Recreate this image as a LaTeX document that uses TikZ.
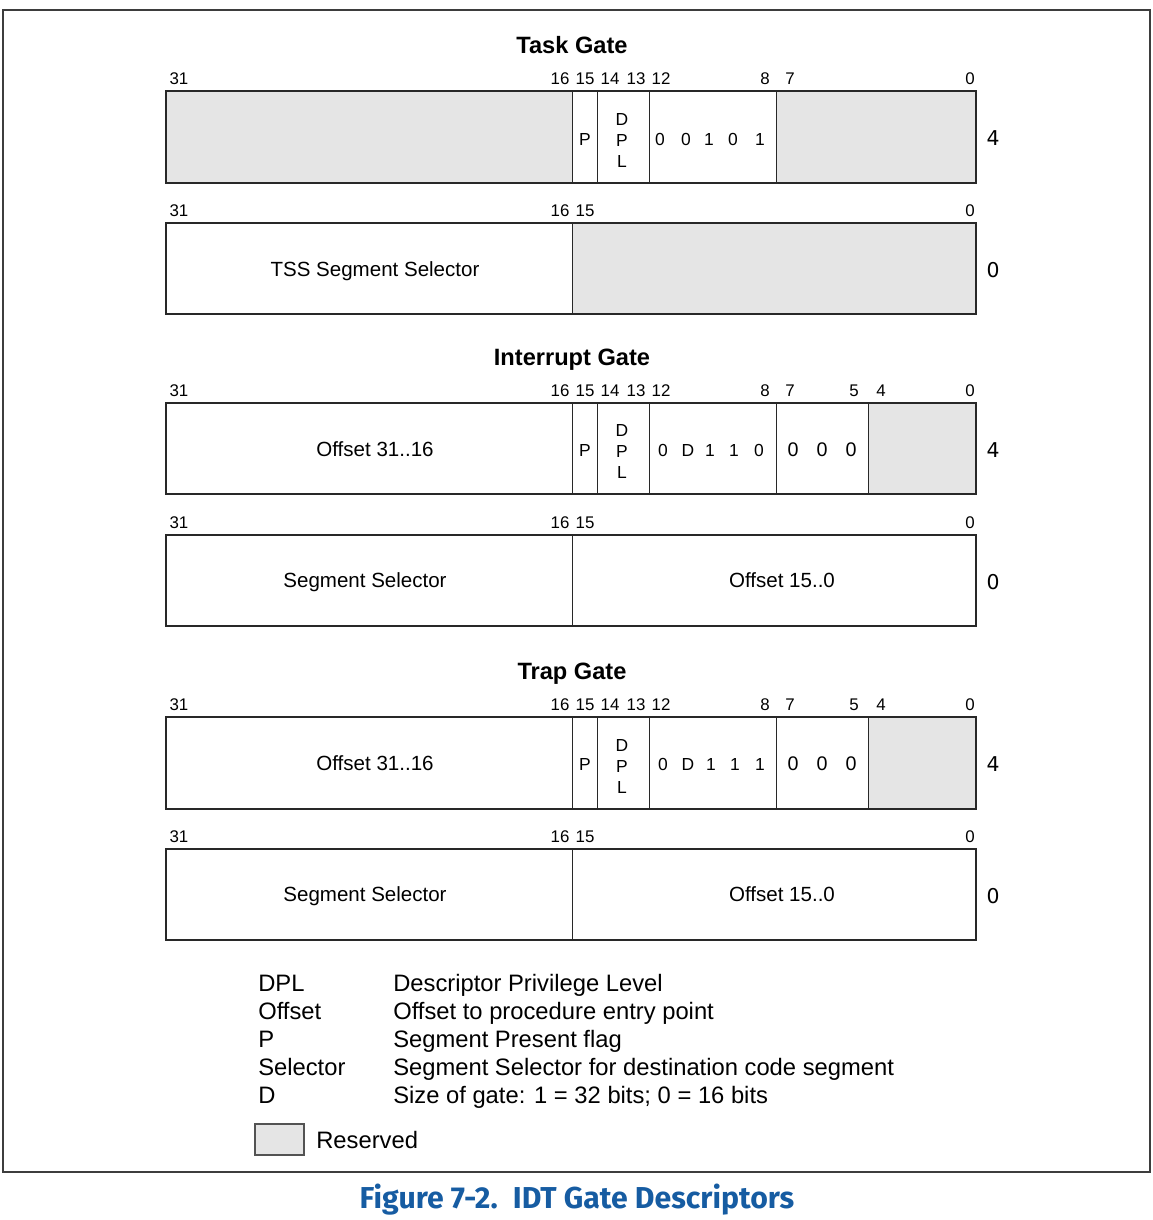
\documentclass[tikz,border=0pt]{standalone}
\usepackage{fontspec}
\setmainfont{Liberation Sans}
\newfontfamily\capfont{Fira Sans}
\newfontfamily\offfont{DejaVu Sans}
\definecolor{ResGray}{RGB}{229,229,229}
\definecolor{LineCol}{RGB}{40,40,40}
\definecolor{CapBlue}{RGB}{22,92,162}

\begin{document}
\begin{tikzpicture}[x=0.025cm,y=-0.025cm,
    txt/.style={inner sep=0pt,text height=0.72em,text depth=0pt,yshift=-1.5pt},
    bitnum/.style={txt,font=\fontsize{12}{14}\selectfont},
    cell/.style={txt,font=\fontsize{12.4}{14}\selectfont},
    bigcell/.style={txt,font=\fontsize{14}{16}\selectfont},
    field/.style={txt,font=\fontsize{14.6}{17}\selectfont},
    offs/.style={txt,font=\offfont\fontsize{14.5}{17}\selectfont},
    title/.style={txt,font=\bfseries\fontsize{16.8}{19}\selectfont},
    legend/.style={txt,anchor=west,font=\fontsize{16.9}{19}\selectfont},
    frame/.style={draw=LineCol,line width=1pt},
    divider/.style={draw=LineCol,line width=0.6pt}]
    \useasboundingbox (0,0) rectangle (1152,1220);
    \draw[draw=LineCol!90,line width=1pt] (3,10) rectangle (1150,1172);

    % Task Gate
    \node[title] (taskT) at (572,46) {Task Gate};
    \foreach \lbl/\x in {31/179,16/560,15/585,14/610,13/636,12/661,8/765,7/790,0/970}
        \node[bitnum] (tbA\lbl) at (\x,77) {\lbl};
    \fill[ResGray] (166,91) rectangle (572,183);
    \fill[ResGray] (776,91) rectangle (976,183);
    \draw[divider] (572,91) -- (572,183) (597,91) -- (597,183)
        (649,91) -- (649,183) (776,91) -- (776,183);
    \draw[frame] (166,91) rectangle (976,183);
    \node[cell] (tP) at (585,138) {P};
    \node[cell] (tD) at (622,118) {D};
    \node[cell] (tPP) at (622,139) {P};
    \node[cell] (tL) at (622,160) {L};
    \foreach \v/\x [count=\i] in {0/660,0/686,1/709,0/733,1/760}
        \node[cell] (tType\i) at (\x,138) {\v};
    \node[offs] (tOff4) at (993,138) {4};

    \foreach \lbl/\x in {31/179,16/560,15/585,0/970}
        \node[bitnum] (tbB\lbl) at (\x,209) {\lbl};
    \fill[ResGray] (572,223) rectangle (976,314);
    \draw[divider] (572,223) -- (572,314);
    \draw[frame] (166,223) rectangle (976,314);
    \node[field] (tSel) at (375,269) {TSS Segment Selector};
    \node[offs] (tOff0) at (993,270) {0};

    % Interrupt Gate
    \node[title] (intT) at (572,358) {Interrupt Gate};
    \foreach \lbl/\x in {31/179,16/560,15/585,14/610,13/636,12/661,8/765,7/790,5/854,4/881,0/970}
        \node[bitnum] (ibA\lbl) at (\x,389) {\lbl};
    \fill[ResGray] (868,403) rectangle (976,494);
    \draw[divider] (572,403) -- (572,494) (597,403) -- (597,494)
        (649,403) -- (649,494) (776,403) -- (776,494) (868,403) -- (868,494);
    \draw[frame] (166,403) rectangle (976,494);
    \node[field] (iHi) at (375,449) {Offset 31..16};
    \node[cell] (iP) at (585,449) {P};
    \node[cell] (iD) at (622,429) {D};
    \node[cell] (iPP) at (622,450) {P};
    \node[cell] (iL) at (622,471) {L};
    \foreach \v/\x [count=\i] in {0/663,D/688,1/710,1/734,0/759}
        \node[cell] (iType\i) at (\x,449) {\v};
    \foreach \x [count=\i] in {793,822,851}
        \node[bigcell] (iZero\i) at (\x,449) {0};
    \node[offs] (iOff4) at (993,450) {4};

    \foreach \lbl/\x in {31/179,16/560,15/585,0/970}
        \node[bitnum] (ibB\lbl) at (\x,521) {\lbl};
    \draw[divider] (572,535) -- (572,626);
    \draw[frame] (166,535) rectangle (976,626);
    \node[field] (iSel) at (365,580) {Segment Selector};
    \node[field] (iLo) at (782,580) {Offset 15..0};
    \node[offs] (iOff0) at (993,582) {0};

    % Trap Gate
    \node[title] (trapT) at (572,672) {Trap Gate};
    \foreach \lbl/\x in {31/179,16/560,15/585,14/610,13/636,12/661,8/765,7/790,5/854,4/881,0/970}
        \node[bitnum] (rbA\lbl) at (\x,703) {\lbl};
    \fill[ResGray] (868,717) rectangle (976,809);
    \draw[divider] (572,717) -- (572,809) (597,717) -- (597,809)
        (649,717) -- (649,809) (776,717) -- (776,809) (868,717) -- (868,809);
    \draw[frame] (166,717) rectangle (976,809);
    \node[field] (rHi) at (375,763) {Offset 31..16};
    \node[cell] (rP) at (585,763) {P};
    \node[cell] (rD) at (622,744) {D};
    \node[cell] (rPP) at (622,765) {P};
    \node[cell] (rL) at (622,786) {L};
    \foreach \v/\x [count=\i] in {0/663,D/688,1/711,1/735,1/760}
        \node[cell] (rType\i) at (\x,763) {\v};
    \foreach \x [count=\i] in {793,822,851}
        \node[bigcell] (rZero\i) at (\x,763) {0};
    \node[offs] (rOff4) at (993,764) {4};

    \foreach \lbl/\x in {31/179,16/560,15/585,0/970}
        \node[bitnum] (rbB\lbl) at (\x,835) {\lbl};
    \draw[divider] (572,849) -- (572,940);
    \draw[frame] (166,849) rectangle (976,940);
    \node[field] (rSel) at (365,894) {Segment Selector};
    \node[field] (rLo) at (782,894) {Offset 15..0};
    \node[offs] (rOff0) at (993,896) {0};

    % legend
    \node[legend] (kDPL) at (258,984) {DPL};
    \node[legend] (kOff) at (258,1012) {Offset};
    \node[legend] (kP) at (258,1040) {P};
    \node[legend] (kSel) at (258,1068) {Selector};
    \node[legend] (kD) at (258,1096) {D};
    \node[legend] (vDPL) at (393,984) {Descriptor Privilege Level};
    \node[legend] (vOff) at (393,1012) {Offset to procedure entry point};
    \node[legend] (vP) at (393,1040) {Segment Present flag};
    \node[legend] (vSel) at (393,1068) {Segment Selector for destination code segment};
    \node[legend] (vD) at (393,1096) {Size of gate: 1 = 32 bits; 0 = 16 bits};
    \draw[draw=LineCol!80,line width=0.8pt,fill=ResGray] (255,1124) rectangle (304,1155);
    \node[legend] (kRes) at (316,1141) {Reserved};

    \node[txt,font=\capfont\bfseries\fontsize{21.5}{25}\selectfont,text=CapBlue] (caption) at (577,1201) {Figure 7-2.\hspace{0.5em}IDT Gate Descriptors};
\end{tikzpicture}
\end{document}
